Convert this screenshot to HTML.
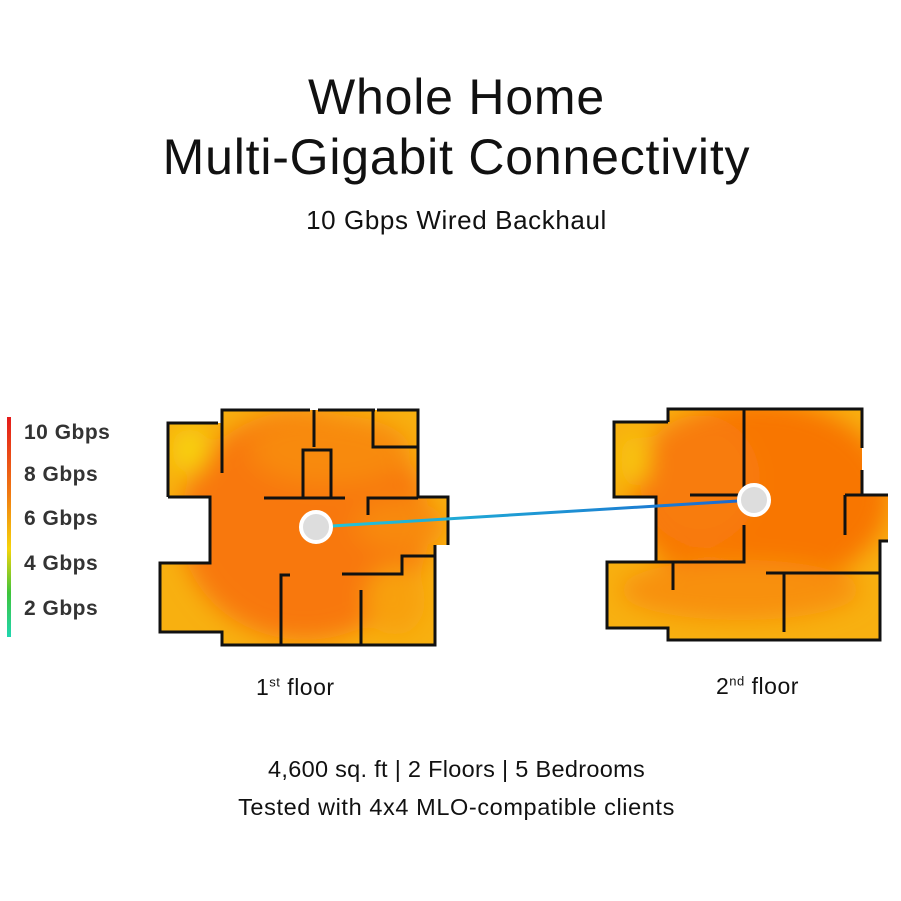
<!DOCTYPE html>
<html><head><meta charset="utf-8"><style>
body{margin:0;width:901px;height:901px;background:#fff;position:relative;font-family:"Liberation Sans",sans-serif;color:#111;overflow:hidden}
.t{position:absolute;left:6px;width:901px;text-align:center;white-space:nowrap}
.lg{position:absolute;left:24px;font-size:21px;font-weight:bold;color:#333;letter-spacing:0.5px}
</style></head><body>
<div class="t" style="top:67px;font-size:50px;line-height:60px;letter-spacing:0.8px">Whole Home<br>Multi-Gigabit Connectivity</div>
<div class="t" style="top:205px;font-size:26px;letter-spacing:0.6px">10 Gbps Wired Backhaul</div>
<div style="position:absolute;left:7px;top:417px;width:4px;height:220px;background:linear-gradient(#e41b1b,#f07a12 35%,#f5d40a 60%,#3ec43a 80%,#1fd6b0)"></div>
<div class="lg" style="top:421px">10 Gbps</div>
<div class="lg" style="top:463px">8 Gbps</div>
<div class="lg" style="top:507px">6 Gbps</div>
<div class="lg" style="top:552px">4 Gbps</div>
<div class="lg" style="top:597px">2 Gbps</div>
<svg style="position:absolute;left:0;top:0" width="901" height="901">
<defs>
<filter id="b" x="-30%" y="-30%" width="160%" height="160%"><feGaussianBlur stdDeviation="12"/></filter>
<clipPath id="c1"><polygon points="168,423 222,423 222,410 418,410 418,497 448,497 448,545 435,545 435,645 222,645 222,632 160,632 160,563 210,563 210,497 168,497"/></clipPath>
<clipPath id="c2"><polygon points="614,422 668,422 668,409 862,409 862,495 888,495 888,541 880,541 880,640 668,640 668,628 607,628 607,562 656,562 656,497 614,497"/></clipPath>
<linearGradient id="ln" x1="0" x2="1"><stop offset="0" stop-color="#22c8d8"/><stop offset="1" stop-color="#1a66d0"/></linearGradient>
</defs>
<g clip-path="url(#c1)">
<rect x="150" y="400" width="310" height="260" fill="#f8b010"/>
<g filter="url(#b)"><ellipse cx="305" cy="525" rx="125" ry="115" fill="#f87808"/><ellipse cx="330" cy="450" rx="80" ry="35" fill="#f88a0a"/><ellipse cx="400" cy="525" rx="45" ry="25" fill="#f88a0a"/><ellipse cx="190" cy="450" rx="18" ry="22" fill="#f8d410"/><ellipse cx="395" cy="600" rx="30" ry="35" fill="#f8a010"/></g>
</g>
<g clip-path="url(#c2)">
<rect x="600" y="400" width="300" height="260" fill="#f8b010"/>
<g filter="url(#b)"><ellipse cx="760" cy="495" rx="130" ry="95" fill="#f87606"/><ellipse cx="700" cy="480" rx="60" ry="65" fill="#f87c08"/><ellipse cx="740" cy="590" rx="120" ry="30" fill="#f89010"/><ellipse cx="635" cy="460" rx="14" ry="25" fill="#f8c810"/></g>
</g>
<g stroke="#111" stroke-width="3" fill="none">
<polyline points="168,497 168,423 218,423"/><polyline points="222,473 222,410 310,410"/><polyline points="318,410 375,410"/><polyline points="377,410 418,410 418,497 448,497 448,545"/>
<polyline points="435,545 435,645 222,645 222,632 160,632 160,563 210,563 210,497 168,497"/><line x1="210" y1="510" x2="210" y2="548"/>
<line x1="314" y1="410" x2="314" y2="447"/><polyline points="303,498 303,450 331,450 331,498"/><line x1="264" y1="498" x2="345" y2="498"/>
<polyline points="373,410 373,447 418,447"/><polyline points="368,515 368,498 418,498"/><polyline points="342,574 402,574 402,556 435,556"/>
<polyline points="281,645 281,575 290,575"/><line x1="361" y1="590" x2="361" y2="645"/>
<polyline points="668,422 614,422 614,497 656,497 656,562 607,562 607,628 668,628 668,640 880,640 880,541 888,541"/><polyline points="668,422 668,409 862,409 862,448"/><line x1="862" y1="470" x2="862" y2="495"/><line x1="845" y1="495" x2="888" y2="495"/>
<line x1="744" y1="409" x2="744" y2="493"/><line x1="690" y1="495" x2="740" y2="495"/><polyline points="744,525 744,562 656,562"/><line x1="673" y1="562" x2="673" y2="590"/>
<line x1="845" y1="495" x2="845" y2="535"/><line x1="766" y1="573" x2="880" y2="573"/><line x1="784" y1="573" x2="784" y2="632"/>
</g>
<line x1="316" y1="527" x2="754" y2="500" stroke="url(#ln)" stroke-width="3"/>
<circle cx="316" cy="527" r="15" fill="#ddd" stroke="#fff" stroke-width="4"/>
<circle cx="754" cy="500" r="15" fill="#ddd" stroke="#fff" stroke-width="4"/>
</svg>
<div style="position:absolute;left:256px;top:674px;font-size:23px;letter-spacing:0.5px">1<sup style="font-size:13px">st</sup> floor</div>
<div style="position:absolute;left:716px;top:673px;font-size:23px;letter-spacing:0.5px">2<sup style="font-size:13px">nd</sup> floor</div>
<div class="t" style="top:756px;font-size:23.5px;letter-spacing:0.3px">4,600 sq. ft | 2 Floors | 5 Bedrooms</div>
<div class="t" style="top:794px;font-size:23.5px;letter-spacing:0.6px">Tested with 4x4 MLO-compatible clients</div>
</body></html>
